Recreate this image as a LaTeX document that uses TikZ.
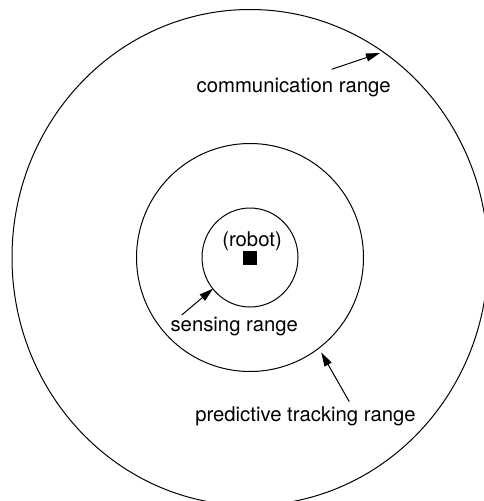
\documentclass[tikz,border=0pt]{standalone}
\usepackage{fontspec}
\setmainfont{TeX Gyre Heros}
\usetikzlibrary{arrows.meta}
\tikzstyle{rangeline}=[draw, line width=1pt]
\tikzstyle{rangetext}=[inner sep=0, outer sep=0, anchor=base, font=\fontsize{20.3}{24}\selectfont]
\tikzstyle{pointer}=[-{Triangle[length=14pt, width=8pt]}, line width=1pt, shorten >=-1pt]
\tikzstyle{robotbox}=[fill=black, inner sep=0, outer sep=0, minimum size=13.5pt]
\tikzstyle{rangefield}=[x=1pt, y=-1pt,
                        % clip to the frame of the picture
                        execute at begin picture={\useasboundingbox (0,0) rectangle (484,501); \clip (0,0) rectangle (484,501);}]

\begin{document}
\begin{tikzpicture}[rangefield]
        \coordinate (C) at (250, 257.5);
        \draw[rangeline] (C) ellipse [x radius=48, y radius=49.5];
        \draw[rangeline] (C) ellipse [x radius=113.5, y radius=114];
        \draw[rangeline] (C) ellipse [x radius=238, y radius=248];
        \node[robotbox] (robot) at (250, 258) {};
        \node[rangetext] (robotlbl) at (252, 246.5) {(robot)};
        \node[rangetext] (sensing) at (234.3, 331) {sensing range};
        \node[rangetext] (predictive) at (305.5, 421.5) {predictive tracking range};
        \node[rangetext] (comm) at (293.7, 92.5) {communication range};
        \coordinate (senseA) at (181.7, 315);
        \coordinate (senseB) at (212.3, 289.3);
        \coordinate (predA) at (349.3, 401.7);
        \coordinate (predB) at (321.7, 353.3);
        \coordinate (commA) at (331.7, 69.3);
        \coordinate (commB) at (379, 53.3);
        \draw[pointer] (senseA) -- (senseB);
        \draw[pointer] (predA) -- (predB);
        \draw[pointer] (commA) -- (commB);
    \end{tikzpicture}
\end{document}
